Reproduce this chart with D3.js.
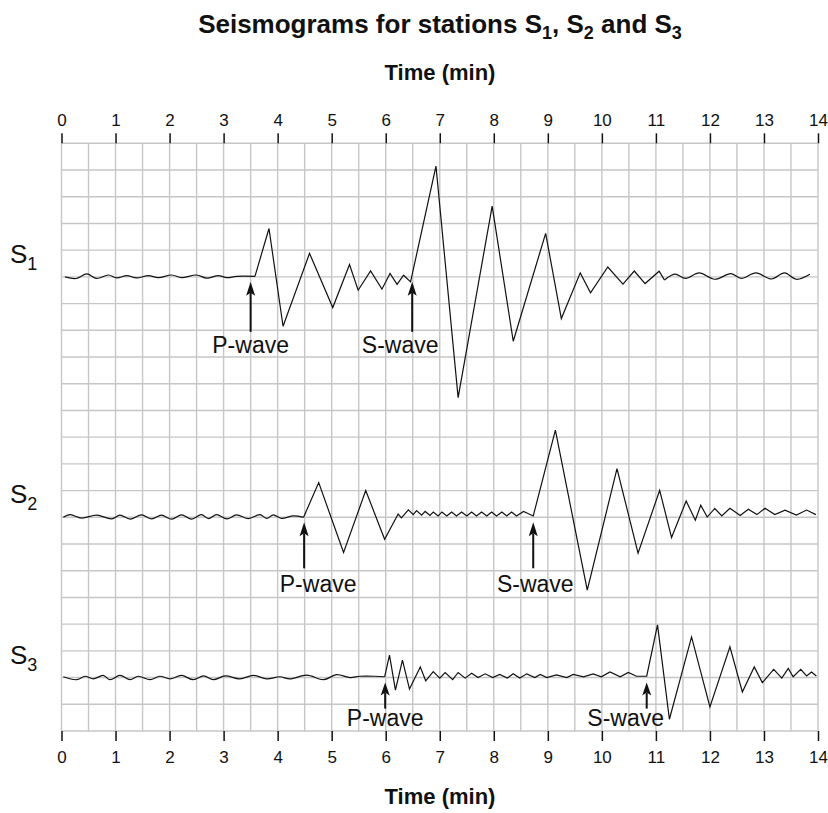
<!DOCTYPE html>
<html>
<head>
<meta charset="utf-8">
<script src="https://cdn.jsdelivr.net/npm/d3@7"></script>
<style>
  body { margin: 0; background: #fff; }
  text { font-family: "Liberation Sans", Arial, Helvetica, sans-serif; fill: #111; }
</style>
</head>
<body>
<svg width="828" height="813"></svg>
<script>
// ---- data (time in min, amplitude in grid squares, + is up) ----
const stations = ["S1", "S2", "S3"];
const stationSub = ["1", "2", "3"];
const baselines = [5, 14, 20];          // grid row of each trace
const xTicks = [0, 1, 2, 3, 4, 5, 6, 7, 8, 9, 10, 11, 12, 13, 14];
const waveLabels = ["P-wave", "S-wave"];
const arrivalTimes = [[3.5, 6.49], [4.49, 8.73], [5.99, 10.83]];

const s1Noise = [[0.065,0],[0.27,-0.06],[0.47,0.11],[0.65,-0.06],[0.87,0.07],[1.02,-0.04],[1.21,0.05],[1.39,-0.04],
  [1.61,0.05],[1.79,-0.03],[2.04,0.07],[2.22,-0.03],[2.5,0.07],[2.69,-0.05],[2.9,0.05],[3.06,-0.03],[3.24,0.02],[3.58,0.02]];
const s1Wave = [[3.58,0.02],[3.84,1.81],[4.1,-1.85],[4.59,0.88],[5.02,-1.15],[5.33,0.46],[5.49,-0.5],[5.72,0.22],
  [5.93,-0.46],[6.08,0.13],[6.21,-0.28],[6.33,0.06],[6.46,-0.19],[6.93,4.15],[7.34,-4.52],[7.97,2.65],[8.36,-2.41],
  [8.96,1.63],[9.25,-1.56],[9.6,0.15],[9.79,-0.6],[10.11,0.37],[10.39,-0.27],[10.6,0.22],[10.8,-0.25],[11.06,0.21],[11.16,-0.12]];
const s1Tail = [[11.16,-0.12],[11.35,0.1],[11.55,-0.06],[11.8,0.15],[12.09,-0.09],[12.39,0.12],[12.58,-0.06],
  [12.85,0.15],[13.14,-0.08],[13.38,0.15],[13.6,-0.09],[13.85,0.1]];

const s2Noise = [[0.034,0],[0.157,0.1],[0.373,-0.03],[0.65,0.08],[0.93,-0.06],[1.08,0.08],[1.27,-0.07],[1.48,0.09],
  [1.67,-0.06],[1.85,0.08],[2.04,-0.07],[2.22,0.09],[2.41,-0.07],[2.59,0.1],[2.72,-0.05],[2.87,0.1],[3.06,-0.06],
  [3.24,0.09],[3.46,-0.05],[3.67,0.1],[3.8,-0.04],[3.92,0.09],[4.07,-0.04],[4.29,0.05],[4.48,0]];
const s2Wave = [[4.48,0],[4.76,1.3],[5.22,-1.32],[5.63,1.0],[5.98,-0.82],[6.23,0.12],[6.29,-0.02],[6.42,0.28],
  [6.51,0.1],[6.57,0.25],[6.665,0.08],[6.73,0.22],[6.82,0.07],[6.88,0.2],[6.97,0.05],[7.04,0.2],[7.13,0.05],
  [7.22,0.2],[7.31,0.05],[7.405,0.2],[7.5,0.05],[7.59,0.2],[7.68,0.05],[7.775,0.2],[7.87,0.05],[7.96,0.2],
  [8.05,0.05],[8.15,0.2],[8.24,0.05],[8.33,0.2],[8.42,0.05],[8.55,0.22],[8.73,0.05],[9.14,3.26],[9.73,-2.73],
  [10.28,1.82],[10.67,-1.34],[11.07,1.01],[11.29,-0.76],[11.56,0.61],[11.73,-0.11],[11.83,0.45],[11.95,0.01],
  [12.09,0.33],[12.22,0.05],[12.37,0.34],[12.56,0.07],[12.71,0.3],[12.87,0.1],[13.02,0.34],[13.2,0.1],
  [13.39,0.27],[13.6,0.08],[13.79,0.27],[13.96,0.1]];

const s3Noise = [[0.034,0.03],[0.28,-0.08],[0.435,0.05],[0.59,-0.05],[0.77,0.08],[0.9,-0.08],[1.08,0.08],[1.27,-0.08],
  [1.42,0.05],[1.64,-0.08],[1.82,0.05],[2.01,-0.05],[2.22,0.08],[2.44,-0.08],[2.63,0.06],[2.81,-0.08],[3.03,0.06],
  [3.3,-0.05],[3.55,0.08],[3.8,-0.05],[4.04,0.03],[4.23,-0.05],[4.54,0.09],[4.85,-0.08],[5.09,0.11],[5.34,0],
  [5.52,0.05],[5.8,0.05],[5.98,0.03]];
const s3Wave = [[5.98,0.03],[6.07,0.84],[6.18,-0.47],[6.31,0.65],[6.44,-0.43],[6.64,0.4],[6.74,-0.12],[6.88,0.22],
  [7.0,-0.02],[7.1,0.19],[7.24,-0.08],[7.34,0.19],[7.47,-0.02],[7.59,0.16],[7.71,0],[7.84,0.14],[7.98,0],[8.11,0.12],
  [8.25,-0.02],[8.36,0.14],[8.48,-0.02],[8.61,0.14],[8.76,0],[8.86,0.12],[8.98,0],[9.16,0.1],[9.35,0],[9.47,0.12],
  [9.66,0.03],[9.84,0.14],[9.99,0.03],[10.15,0.21],[10.34,0.03],[10.49,0.19],[10.64,0.05],[10.83,0.05],[11.03,1.97],
  [11.25,-1.56],[11.66,1.52],[12.0,-1.1],[12.37,1.15],[12.6,-0.54],[12.82,0.4],[12.97,-0.19],[13.18,0.31],
  [13.33,-0.02],[13.45,0.34],[13.54,0.03],[13.68,0.31],[13.79,0.06],[13.88,0.21],[13.97,0.06]];

const traces = [
  { s: 0, pts: s1Noise, smooth: true }, { s: 0, pts: s1Wave, smooth: false }, { s: 0, pts: s1Tail, smooth: true },
  { s: 1, pts: s2Noise, smooth: true }, { s: 1, pts: s2Wave, smooth: false },
  { s: 2, pts: s3Noise, smooth: true }, { s: 2, pts: s3Wave, smooth: false }
];

// ---- layout ----
const arrowLen = [50, 46, 26];
const labelDy = [76, 75, 48];
const labelDx = [[0, -12], [14, 2], [0, -21]];

const svg = d3.select("svg");
const x = d3.scaleLinear().domain([0, 14]).range([61.5, 818]);
const y = d3.scaleLinear().domain([0, 22]).range([143.3, 731]);
const ampY = (s, a) => y(baselines[s] - a);

// grid
const grid = svg.append("g").attr("stroke", "#c6c6c6").attr("stroke-width", 1.4);
grid.selectAll(".v").data(d3.range(0, 14.01, 0.5)).enter().append("line")
  .attr("x1", d => x(d)).attr("x2", d => x(d)).attr("y1", y(0)).attr("y2", y(22));
grid.selectAll(".h").data(d3.range(0, 23)).enter().append("line")
  .attr("x1", x(0)).attr("x2", x(14)).attr("y1", d => y(d)).attr("y2", d => y(d));

// axes top and bottom
function styleAxis(g) {
  g.select(".domain").remove();
  g.selectAll(".tick line").attr("stroke", "#111").attr("stroke-width", 1.5);
  g.selectAll(".tick text").attr("font-size", 17).attr("fill", "#111")
    .style("font-family", "'Liberation Sans', Arial, sans-serif");
}
svg.append("g").attr("transform", `translate(0,${y(0)})`)
  .call(d3.axisTop(x).tickValues(xTicks).tickSize(10).tickPadding(7).tickFormat(d3.format("d")))
  .call(styleAxis);
svg.append("g").attr("transform", `translate(0,${y(22)})`)
  .call(d3.axisBottom(x).tickValues(xTicks).tickSize(10).tickPadding(10).tickFormat(d3.format("d")))
  .call(styleAxis);

// traces
traces.forEach(t => {
  const line = d3.line()
    .curve(t.smooth ? d3.curveCatmullRom.alpha(0.5) : d3.curveLinear)
    .x(d => x(d[0]))
    .y(d => ampY(t.s, d[1]));
  svg.append("path")
    .attr("d", line(t.pts))
    .attr("fill", "none")
    .attr("stroke", "#111")
    .attr("stroke-width", 1.2)
    .attr("stroke-linejoin", "miter");
});

// arrival arrows + labels
stations.forEach((st, s) => {
  arrivalTimes[s].forEach((t, k) => {
    const xa = x(t);
    const y0 = y(baselines[s]) + 5;
    const y1 = y0 + arrowLen[s];
    const head = Math.min(14, arrowLen[s] * 0.5);
    svg.append("line")
      .attr("x1", xa).attr("x2", xa).attr("y1", y0 + head - 3).attr("y2", y1)
      .attr("stroke", "#111").attr("stroke-width", 2);
    svg.append("path")
      .attr("d", `M${xa},${y0} L${xa + 4.5},${y0 + head} L${xa},${y0 + head - 3} L${xa - 4.5},${y0 + head} Z`)
      .attr("fill", "#111");
    svg.append("text")
      .attr("x", xa + labelDx[s][k])
      .attr("y", y(baselines[s]) + labelDy[s])
      .attr("text-anchor", "middle")
      .attr("font-size", 23)
      .text(waveLabels[k]);
  });

  // station name with subscript
  const lbl = svg.append("text")
    .attr("x", 10)
    .attr("y", y(baselines[s]) - 14)
    .attr("font-size", 26);
  lbl.append("tspan").text(st.charAt(0));
  lbl.append("tspan").attr("font-size", 18).attr("dy", 7).text(stationSub[s]);
});

// title and axis titles
const title = svg.append("text")
  .attr("x", 440).attr("y", 33)
  .attr("text-anchor", "middle")
  .attr("font-size", 26).attr("font-weight", "bold");
title.append("tspan").text("Seismograms for stations S");
title.append("tspan").attr("font-size", 18).attr("dy", 6).text("1");
title.append("tspan").attr("dy", -6).text(", S");
title.append("tspan").attr("font-size", 18).attr("dy", 6).text("2");
title.append("tspan").attr("dy", -6).text(" and S");
title.append("tspan").attr("font-size", 18).attr("dy", 6).text("3");

[80, 804].forEach(yy => {
  svg.append("text")
    .attr("x", 440).attr("y", yy)
    .attr("text-anchor", "middle")
    .attr("font-size", 22).attr("font-weight", "bold")
    .text("Time (min)");
});
</script>
</body>
</html>
